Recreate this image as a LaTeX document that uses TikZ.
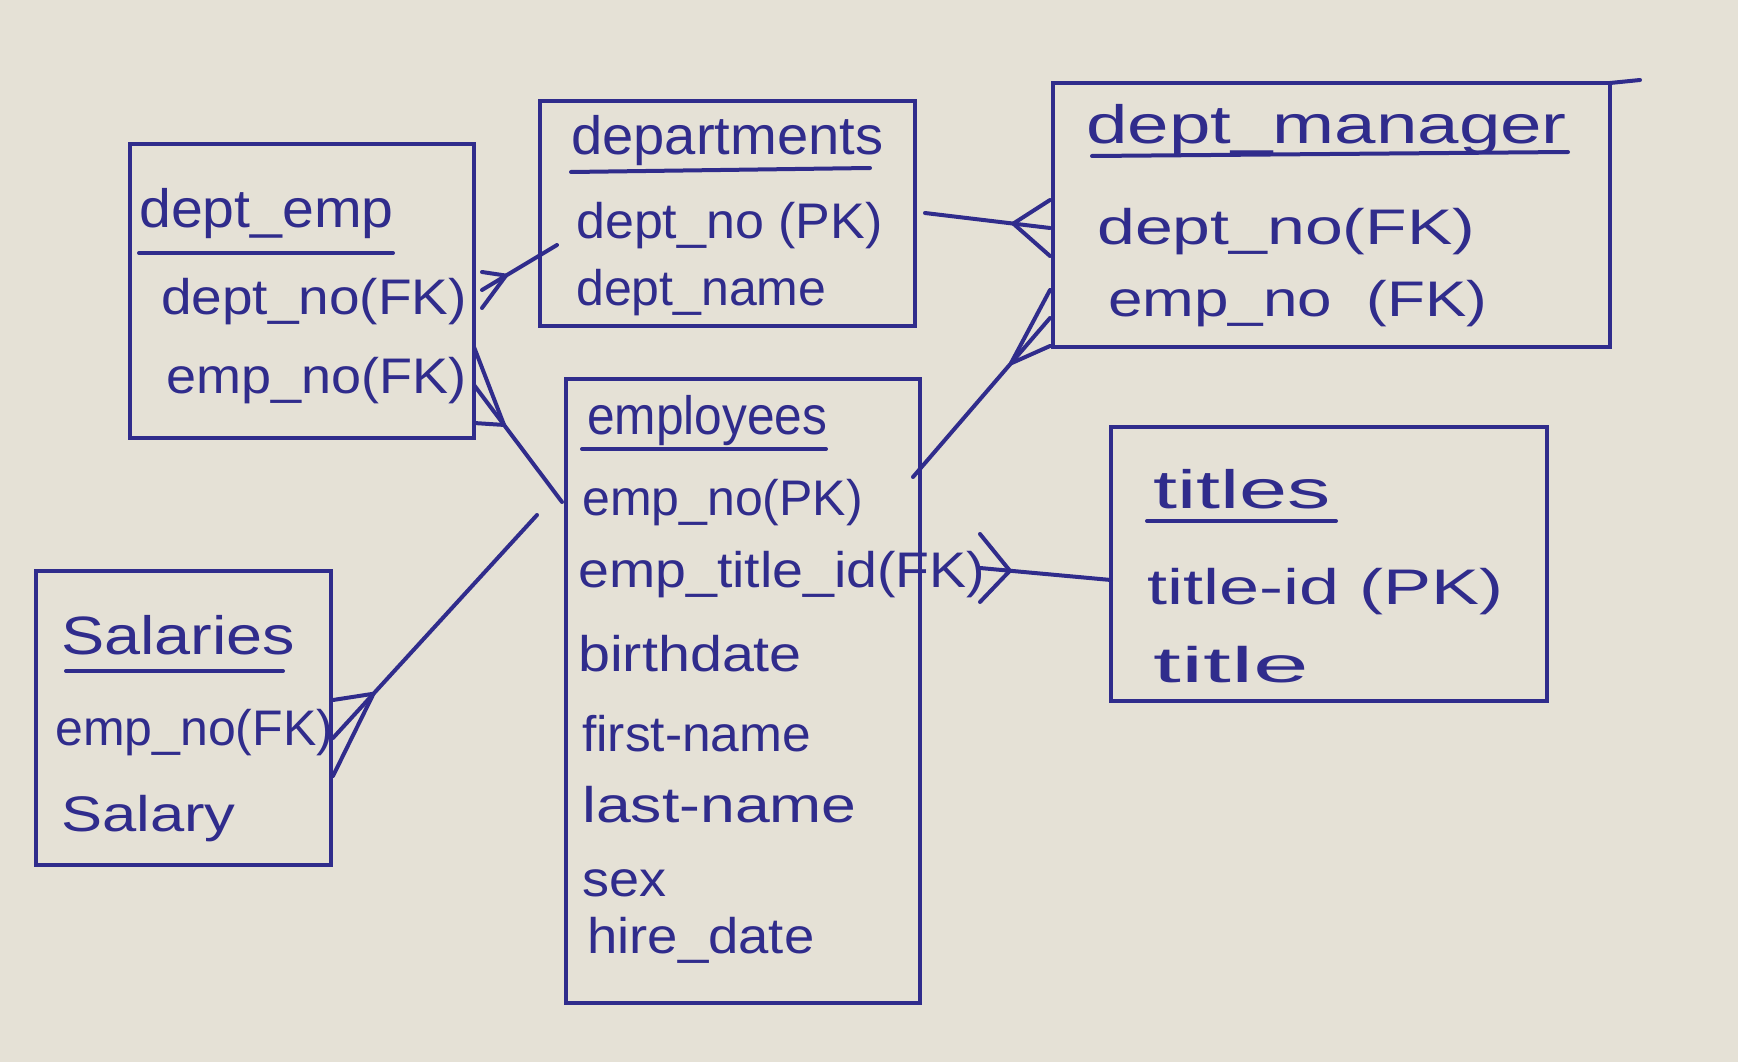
\documentclass[tikz,border=0pt]{standalone}
\usepackage{fontspec}
\setmainfont{Liberation Sans}
\usetikzlibrary{calc}
\definecolor{ink}{RGB}{48,44,140}
\definecolor{paper}{RGB}{229,225,214}
% crow's foot at end A of the line A--B: vertex at distance #3 from A, prongs spread #4 along the box edge
\newcommand\crowv[4]{%
  \coordinate (cv) at ($(#1)!#3!(#2)$);
  \draw[conn] ($(#1)+(0,#4)$) -- (cv) -- ($(#1)-(0,#4)$);}
\newcommand\sx[2]{\scalebox{#1}[1]{#2}}
\begin{document}
\begin{tikzpicture}[x=1pt,y=-1pt,
  box/.style={draw=ink, line width=4pt, inner sep=0pt, outer sep=0pt},
  ttl/.style={text=ink, font=\fontsize{54}{56}\selectfont, anchor=base west, inner sep=0pt},
  field/.style={text=ink, font=\fontsize{50}{52}\selectfont, anchor=base west, inner sep=0pt},
  uline/.style={draw=ink, line width=4pt, line cap=round},
  conn/.style={draw=ink, line width=4pt, line cap=round, line join=round}]
\fill[paper] (0,0) rectangle (1738,1062);
\useasboundingbox (0,0) rectangle (1738,1062);

% boxes
\node[box, minimum width=344pt, minimum height=294pt] (deptemp) at (302,291) {};
\node[box, minimum width=375pt, minimum height=225pt] (depts) at (727.5,213.5) {};
\node[box, minimum width=557pt, minimum height=264pt] (mgr) at (1331.5,215) {};
\draw[uline] (mgr.north east) -- ++(30,-3);
\node[box, minimum width=354pt, minimum height=624pt] (emps) at (743,691) {};
\node[box, minimum width=436pt, minimum height=274pt] (titles) at (1329,564) {};
\node[box, minimum width=295pt, minimum height=294pt] (sal) at (183.5,718) {};

% dept_emp
\node[ttl] (t1) at (139,227) {\sx{1.06}{dept\_emp}};
\draw[uline] (139,253) -- (393,253);
\node[field] (de1) at (161,314) {\sx{1.10}{dept\_no(FK)}};
\node[field] (de2) at (166,393) {\sx{1.08}{emp\_no(FK)}};

% departments
\node[ttl] (t2) at (571,155) {\sx{1.04}{departments}};
\draw[uline] (571,172) -- (870,168);
\node[field] (dp1) at (576,238) {\sx{1.04}{dept\_no (PK)}};
\node[field] (dp2) at (576,305) {dept\_name};

% dept_manager
\node[ttl] (t3) at (1086,144) {\sx{1.38}{dept\_manager}};
\draw[uline] (1092,156) -- (1568,152);
\node[field] (dm1) at (1097,244) {\sx{1.36}{dept\_no(FK)}};
\node[field] (dm2) at (1108,316) {\sx{1.24}{emp\_no\ \ (FK)}};

% employees
\node[ttl] (t4) at (587,434) {\sx{0.92}{employees}};
\draw[uline] (582,449) -- (826,449);
\node[field] (e1) at (582,515) {emp\_no(PK)};
\node[field] (e2) at (578,587) {\sx{1.11}{emp\_title\_id(FK)}};
\node[field] (e3) at (578,671) {\sx{1.15}{birthdate}};
\node[field] (e4) at (582,751) {\sx{1.03}{first-name}};
\node[field] (e5) at (582,822) {\sx{1.25}{last-name}};
\node[field] (e6) at (582,896) {\sx{1.08}{sex}};
\node[field] (e7) at (587,953) {\sx{1.09}{hire\_date}};

% titles
\node[ttl] (t5) at (1153,508) {\sx{1.6}{titles}};
\draw[uline] (1147,521) -- (1336,521);
\node[field] (ti1) at (1147,604) {\sx{1.44}{title-id (PK)}};
\node[field] (ti2) at (1153,682) {\sx{2.0}{title}};

% salaries
\node[ttl] (t6) at (61,654) {\sx{1.2}{Salaries}};
\draw[uline] (66,671) -- (283,671);
\node[field] (s1) at (55,745) {emp\_no(FK)};
\node[field] (s2) at (61,831) {\sx{1.23}{Salary}};

% connector end points
\coordinate (c1a) at (482,290);
\coordinate (c1b) at (557,245);
\coordinate (c2a) at (474,385);
\coordinate (c2b) at (562,502);
\coordinate (c3a) at (333,738);
\coordinate (c3b) at (537,515);
\coordinate (c4a) at (925,213);
\coordinate (c4b) at (1050,228);
\coordinate (c5a) at (913,477);
\coordinate (c5b) at (1050,318);
\coordinate (c6a) at (980,568);
\coordinate (c6b) at (1111,580);

\draw[conn] (c1a) -- (c1b); \crowv{c1a}{c1b}{28pt}{18}
\draw[conn] (c2a) -- (c2b); \crowv{c2a}{c2b}{50pt}{38}
\draw[conn] (c3a) -- (c3b); \crowv{c3a}{c3b}{60pt}{38}
\draw[conn] (c4a) -- (c4b); \crowv{c4b}{c4a}{37pt}{28}
\draw[conn] (c5a) -- (c5b); \crowv{c5b}{c5a}{60pt}{28}
\draw[conn] (c6a) -- (c6b); \crowv{c6a}{c6b}{30pt}{34}
\end{tikzpicture}
\end{document}
